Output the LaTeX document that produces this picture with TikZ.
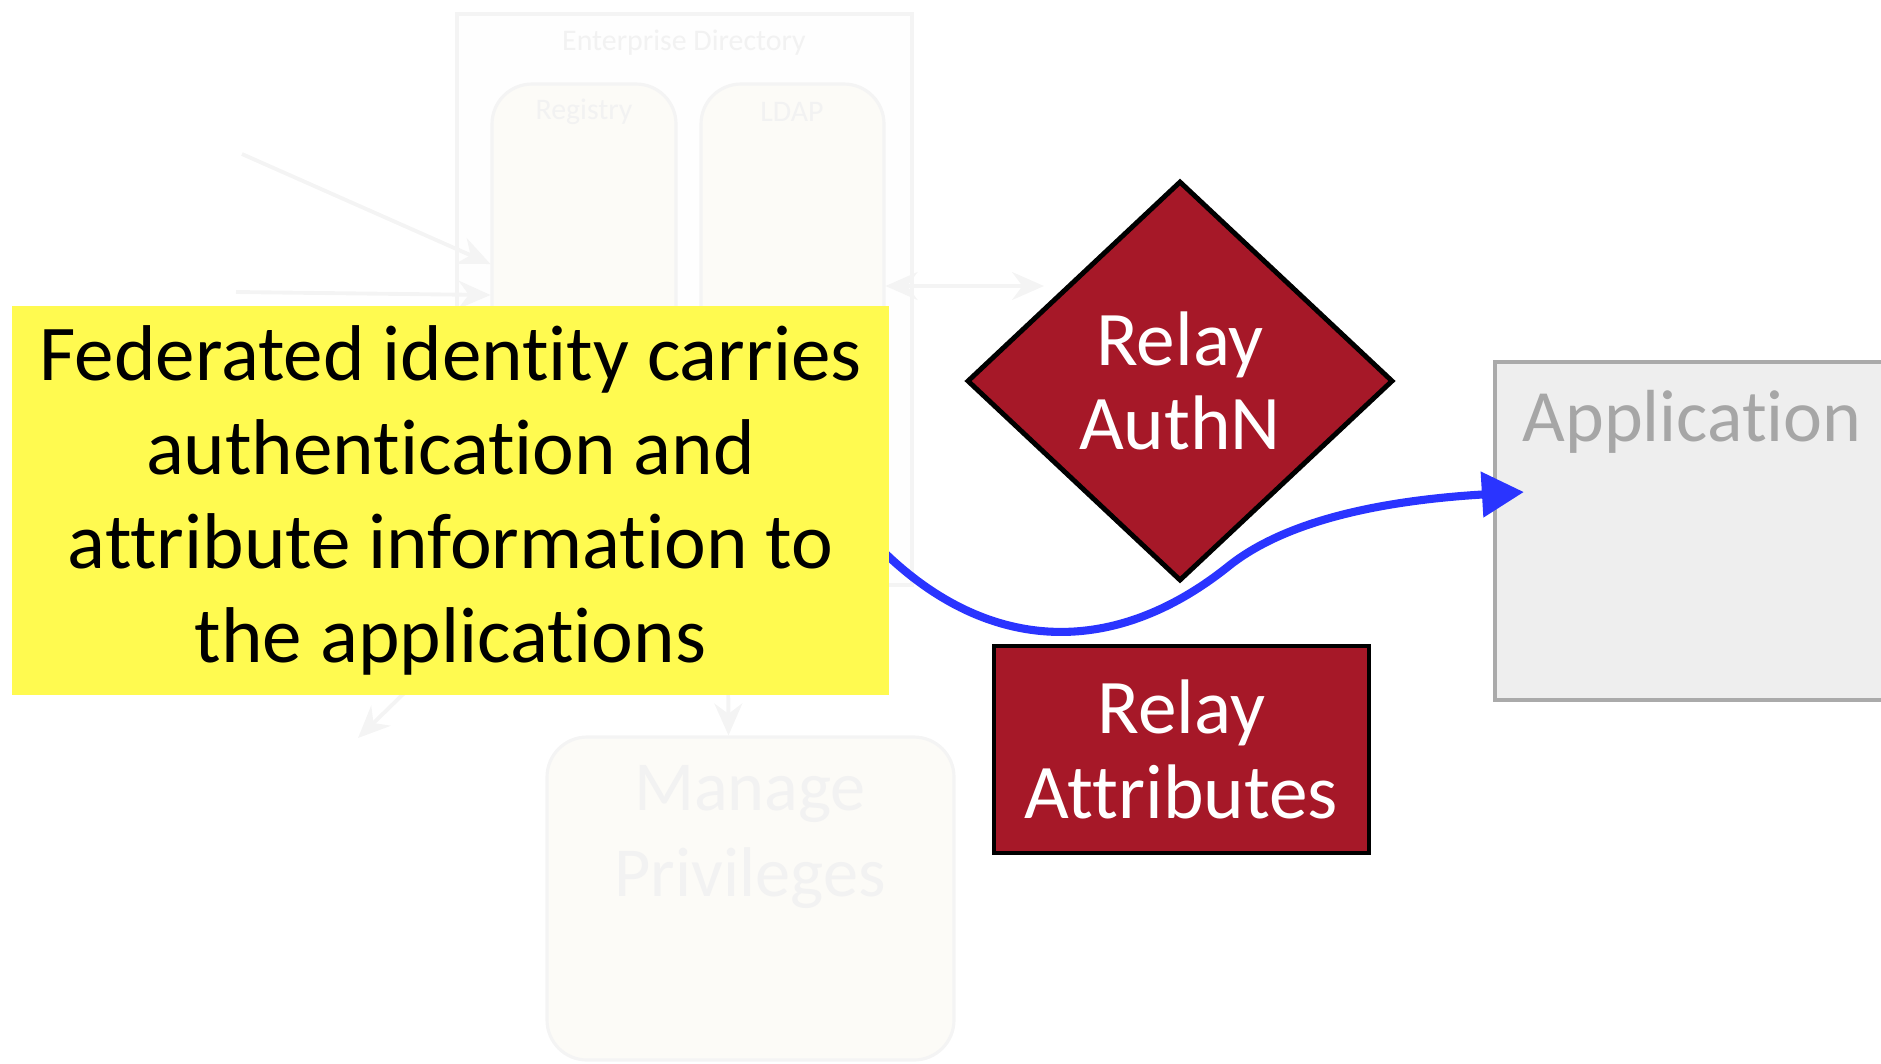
\documentclass[tikz,border=0pt]{standalone}
\usepackage{fontspec}
\setmainfont{Carlito}[Ligatures={NoCommon,NoRequired,NoContextual}]
\usetikzlibrary{shapes.geometric,arrows.meta}

\definecolor{relayred}{RGB}{166,24,40}
\definecolor{noteyellow}{RGB}{255,250,80}
\definecolor{flowblue}{RGB}{42,52,255}
\definecolor{appfill}{RGB}{238,238,238}
\definecolor{appline}{RGB}{170,170,170}
\definecolor{apptext}{RGB}{166,166,166}
\definecolor{ghostline}{RGB}{244,244,244}
\definecolor{ghostfill}{RGB}{252,251,247}
\definecolor{ghosttext}{RGB}{242,242,242}

\begin{document}
\begin{tikzpicture}[x=0.1mm,y=-0.1mm,
    ghostbox/.style={draw=ghostline, fill=ghostfill, line width=0.9pt, rounded corners=4mm},
    ghostarrow/.style={draw=ghostline, line width=1.1pt, -{Stealth[length=3.2mm,width=2.8mm]}},
    ghostlabel/.style={text=ghosttext, inner sep=0pt},
    relaybox/.style={draw=black, line width=1.4pt, fill=relayred, text=white,
      align=center, font=\fontsize{22}{24}\selectfont},
    notebox/.style={fill=noteyellow, align=center, inner sep=0pt,
      font=\fontsize{22.5}{26.7}\selectfont},
    flow/.style={draw=flowblue, line width=2.3pt, -{Triangle[length=4.2mm,width=4.4mm]}}
  ]

    \useasboundingbox (0,0) rectangle (1881,1063);
    \clip (0,0) rectangle (1881,1063);

    % Enterprise Directory (faded)
    \draw[draw=ghostline, fill=white!98!black!20, line width=0.9pt] (457,14) rectangle (912,585);
    \node[ghostlabel, font=\fontsize{8.5}{10}\selectfont] (entdir) at (684,43) {Enterprise Directory};

    \node[ghostbox, minimum width=18.4mm, minimum height=47.6mm] (registry) at (584,322) {};
    \node[ghostlabel, font=\fontsize{8.5}{10}\selectfont] at (584,112) {Registry};

    \node[ghostbox, minimum width=18.3mm, minimum height=47.6mm] (ldap) at (792.5,322) {};
    \node[ghostlabel, font=\fontsize{8.5}{10}\selectfont] at (792,112) {LDAP};

    % faded arrows
    \coordinate (src1) at (242,154);
    \coordinate (src2) at (236,292);
    \coordinate (peer) at (1044,286);
    \draw[ghostarrow] (src1) -- ([yshift=5.8mm]registry.west);
    \draw[ghostarrow] (src2) -- ([yshift=2.7mm]registry.west);
    \draw[ghostarrow, {Stealth[length=3.2mm,width=2.8mm]}-{Stealth[length=3.2mm,width=2.8mm]}]
      ([yshift=3.6mm]ldap.east) -- (peer);

    % Manage Privileges (faded)
    \node[ghostbox, minimum width=40.7mm, minimum height=32.3mm] (privs) at (750.5,898.5) {};
    \node[ghostlabel, align=center, font=\fontsize{20}{24.5}\selectfont] at (750,837) {Manage\\Privileges};
    \coordinate (down1) at (430,668);
    \coordinate (down2) at (728,640);
    \coordinate (out1) at (358,738);
    \draw[ghostarrow] (down1) -- (out1);
    \draw[ghostarrow] (down2) -- ([xshift=-2.2mm]privs.north);

    % Application
    \node[draw=appline, fill=appfill, line width=1.2pt, minimum width=40.5mm, minimum height=33.8mm] (app) at (1697.5,531) {};
    \node[text=apptext, anchor=west, inner sep=0pt, font=\fontsize{21}{24}\selectfont] (applabel) at (1522,422) {Application};

    % Relay AuthN
    \node[relaybox, diamond, minimum width=42.6mm, minimum height=40mm, inner sep=0pt] (authn) at (1180,381) {Relay\\AuthN};

    % Relay Attributes
    \node[relaybox, minimum width=37.5mm, minimum height=20.7mm, inner sep=0pt] (attrs) at (1181.5,749.5) {Relay\\Attributes};

    % flow into the application
    \coordinate (flowstart) at (850,515);
    \coordinate (tip) at ([xshift=3.1mm,yshift=3.9mm]app.west);
    \draw[flow] (flowstart) .. controls (960,650) and (1100,670) .. (1230,565)
      .. controls (1290,518) and (1390,500) .. (tip);

    % yellow note
    \node[notebox, minimum width=87.7mm, minimum height=38.9mm] (note) at (450.5,500.5)
      {Federated identity carries\\authentication and\\attribute information to\\the applications};

  \end{tikzpicture}
\end{document}
